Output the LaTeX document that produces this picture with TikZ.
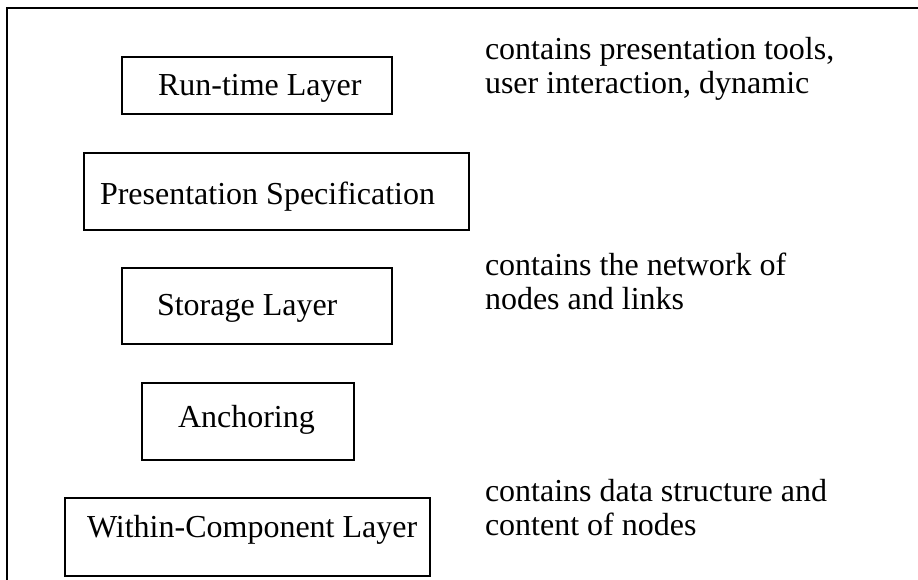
\documentclass[tikz,border=0pt]{standalone}
\usepackage{fontspec}
\setmainfont{Liberation Serif}
\begin{document}
\begin{tikzpicture}[x=1pt,y=-1pt,
    every node/.style={inner sep=0pt, outer sep=0pt},
    layerbox/.style={draw, line width=1.8pt, rectangle, anchor=north west},
    boxlabel/.style={anchor=base west, font=\fontsize{32}{34}\selectfont},
    note/.style={anchor=base west, font=\fontsize{32}{34}\selectfont}]
  \useasboundingbox (0,0) rectangle (918,580);

  % open frame: left and top edges only
  \coordinate (fbl) at (7,580);
  \coordinate (ftl) at (7,8);
  \coordinate (ftr) at (918,8);
  \draw[line width=1.8pt] (fbl) -- (ftl) -- (ftr);

  % layer boxes
  \node[layerbox, minimum width=270, minimum height=57] (rt) at (122,57) {};
  \node[layerbox, minimum width=385, minimum height=77] (ps) at (84,153) {};
  \node[layerbox, minimum width=270, minimum height=76] (sl) at (122,268) {};
  \node[layerbox, minimum width=212, minimum height=77] (an) at (142,383) {};
  \node[layerbox, minimum width=365, minimum height=78] (wc) at (65,498) {};

  % box captions
  \node[boxlabel] (rtl) at (158,95.5) {Run-time Layer};
  \node[boxlabel] (psl) at (100,205) {Presentation Specification};
  \node[boxlabel] (sll) at (157,315) {Storage Layer};
  \node[boxlabel] (anl) at (178,427) {Anchoring};
  \node[boxlabel] (wcl) at (87,537) {Within-Component Layer};

  % descriptions on the right
  \node[note] (d1) at (485,60) {\begin{tabular}[t]{@{}l@{}}contains presentation tools,\\user interaction, dynamic\end{tabular}};
  \node[note] (d2) at (485,275) {\begin{tabular}[t]{@{}l@{}}contains the network of\\nodes and links\end{tabular}};
  \node[note] (d3) at (485,501) {\begin{tabular}[t]{@{}l@{}}contains data structure and\\content of nodes\end{tabular}};
\end{tikzpicture}
\end{document}
